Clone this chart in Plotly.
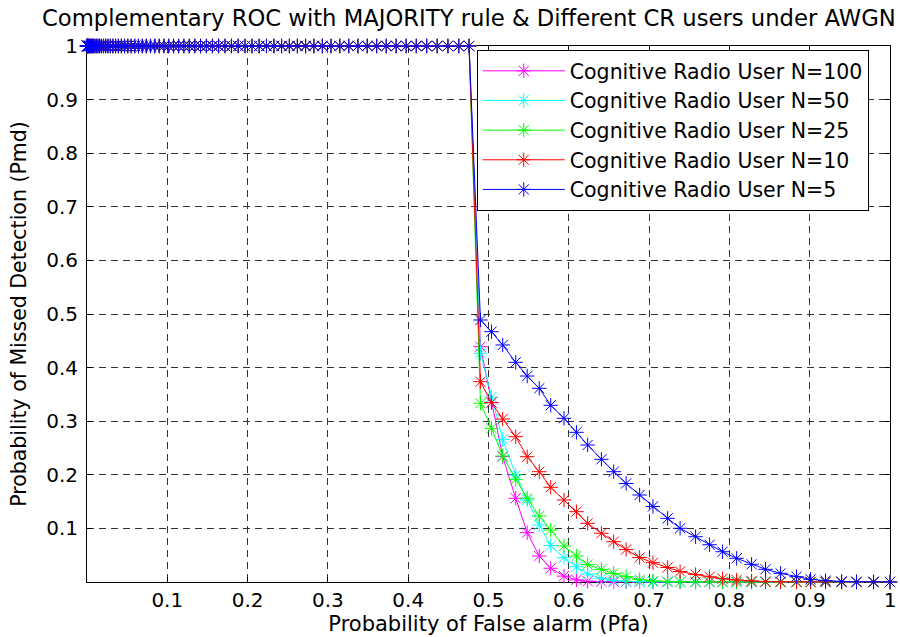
import plotly.graph_objects as go

# ---------------- data ----------------
# Pfa positions of the markers on the plateau where Pmd = 1 (shared by all curves)
pfa_plateau = [0.0, 0.0001, 0.0003, 0.0006, 0.001, 0.0016, 0.0024, 0.0032, 0.0043, 0.0054,
               0.0068, 0.0082, 0.0099, 0.0117, 0.0137, 0.0158, 0.0181, 0.0206, 0.0232, 0.026,
               0.0291, 0.0322, 0.0356, 0.0391, 0.0428, 0.0467, 0.0508, 0.055, 0.0595, 0.0641,
               0.0689, 0.0739, 0.0791, 0.0844, 0.09, 0.0957, 0.1017, 0.1078, 0.1141, 0.1206,
               0.1273, 0.1343, 0.1414, 0.1487, 0.1562, 0.1639, 0.1718, 0.1799, 0.1883, 0.1968,
               0.2055, 0.2144, 0.2235, 0.2328, 0.2423, 0.252, 0.262, 0.2722, 0.2825, 0.2931,
               0.3039, 0.3148, 0.326, 0.3374, 0.349, 0.3607, 0.3727, 0.385, 0.3975, 0.4101,
               0.423, 0.4361, 0.4495, 0.463, 0.4758]
pmd_plateau_value = 1.0

# Pfa positions of the markers after the drop (shared by all curves)
pfa_tail = [0.49, 0.5037, 0.5177, 0.5339, 0.5482, 0.5632, 0.5775, 0.594, 0.6095, 0.6235,
            0.6406, 0.6559, 0.6714, 0.6882, 0.7048, 0.7231, 0.7386, 0.7579, 0.7753, 0.7915,
            0.809, 0.8276, 0.845, 0.8637, 0.8836, 0.9011, 0.9197, 0.9397, 0.9583, 0.9795, 1.0]

pmd_n100 = [0.439, 0.335, 0.234, 0.1562, 0.092, 0.0485, 0.0256, 0.011, 0.004, 0.0015,
            0.0005, 0.0002, 0.0001, 0.0, 0.0, 0.0, 0.0, 0.0, 0.0, 0.0,
            0.0, 0.0, 0.0, 0.0, 0.0, 0.0, 0.0, 0.0, 0.0, 0.0, 0.0]
pmd_n50 = [0.4267, 0.345, 0.2662, 0.1996, 0.153, 0.1063, 0.068, 0.0453, 0.0285, 0.0149,
           0.0069, 0.0028, 0.001, 0.0004, 0.0001, 0.0, 0.0, 0.0, 0.0, 0.0,
           0.0, 0.0, 0.0, 0.0, 0.0, 0.0, 0.0, 0.0, 0.0, 0.0, 0.0]
pmd_n25 = [0.3334, 0.2868, 0.2351, 0.1916, 0.1562, 0.1231, 0.097, 0.0672, 0.0485, 0.0325,
           0.0235, 0.016, 0.0099, 0.0045, 0.0019, 0.0008, 0.0003, 0.0001, 0.0, 0.0,
           0.0, 0.0, 0.0, 0.0, 0.0, 0.0, 0.0, 0.0, 0.0, 0.0, 0.0]
pmd_n10 = [0.3737, 0.3345, 0.3041, 0.2711, 0.2338, 0.2058, 0.1767, 0.153, 0.1312, 0.1095,
           0.0909, 0.0752, 0.0606, 0.0457, 0.036, 0.0271, 0.0196, 0.014, 0.0097, 0.0062,
           0.0037, 0.0019, 0.0007, 0.0003, 0.0001, 0.0, 0.0, 0.0, 0.0, 0.0, 0.0]
pmd_n5 = [0.4888, 0.467, 0.4422, 0.4099, 0.3843, 0.3614, 0.3297, 0.3054, 0.2793, 0.2556,
          0.2289, 0.2058, 0.1838, 0.1623, 0.1409, 0.1188, 0.1002, 0.0845, 0.0695, 0.0565,
          0.0442, 0.033, 0.0237, 0.0162, 0.0099, 0.005, 0.0024, 0.0008, 0.0003, 0.0001, 0.0]

series_names = ["Cognitive Radio User N=100", "Cognitive Radio User N=50",
                "Cognitive Radio User N=25", "Cognitive Radio User N=10",
                "Cognitive Radio User N=5"]
series_tails = [pmd_n100, pmd_n50, pmd_n25, pmd_n10, pmd_n5]
series_colors = ["#FF00FF", "#00FFFF", "#00FF00", "#FF0000", "#0000FF"]

tick_vals = [0.1, 0.2, 0.3, 0.4, 0.5, 0.6, 0.7, 0.8, 0.9, 1.0]
tick_text = ["0.1", "0.2", "0.3", "0.4", "0.5", "0.6", "0.7", "0.8", "0.9", "1"]

title_text = "Complementary ROC with MAJORITY rule & Different CR users under AWGN"
x_title = "Probability of False alarm (Pfa)"
y_title = "Probability of Missed Detection (Pmd)"

# ---------------- figure ----------------
FONT = "DejaVu Sans"
fig = go.Figure()
pfa_all = pfa_plateau + pfa_tail
for name, tail, col in zip(series_names, series_tails, series_colors):
    pmd_all = [pmd_plateau_value] * len(pfa_plateau) + tail
    fig.add_trace(go.Scatter(
        x=pfa_all, y=pmd_all, name=name, mode="lines+markers",
        line=dict(color=col, width=1),
        marker=dict(symbol="asterisk-open", size=12, color=col,
                    line=dict(color=col, width=1)),
        cliponaxis=False,
    ))

axis_common = dict(
    range=[0, 1], tickvals=tick_vals, ticktext=tick_text,
    showline=True, linecolor="black", linewidth=1, mirror="ticks",
    ticks="inside", ticklen=5, tickcolor="black", tickwidth=1,
    showgrid=True, gridcolor="#333333", gridwidth=1, griddash="7px,5px",
    zeroline=False, layer="below traces",
    tickfont=dict(family=FONT, size=20, color="black"),
    automargin=False,
)

fig.update_layout(
    width=900, height=637,
    margin=dict(l=87, r=9.5, t=46, b=55),
    paper_bgcolor="white", plot_bgcolor="white",
    title=dict(text=title_text, x=42 / 900, xanchor="left", xref="container",
               y=1 - 18 / 637, yanchor="middle", yref="container",
               font=dict(family=FONT, size=22.7, color="black")),
    xaxis=dict(**axis_common, title=dict(text=x_title, standoff=3,
               font=dict(family=FONT, size=21, color="black")), ticklabelstandoff=0),
    yaxis=dict(**axis_common, title=dict(text=y_title, standoff=14,
               font=dict(family=FONT, size=20.5, color="black")), ticklabelstandoff=4),
    legend=dict(x=(477 - 87) / 803.5, y=(582 - 50) / 536, xanchor="left", yanchor="top",
                bgcolor="white", bordercolor="black", borderwidth=1,
                font=dict(family=FONT, size=20.5, color="black"),
                itemwidth=82),
    showlegend=True,
)

fig.write_html("out.html")
